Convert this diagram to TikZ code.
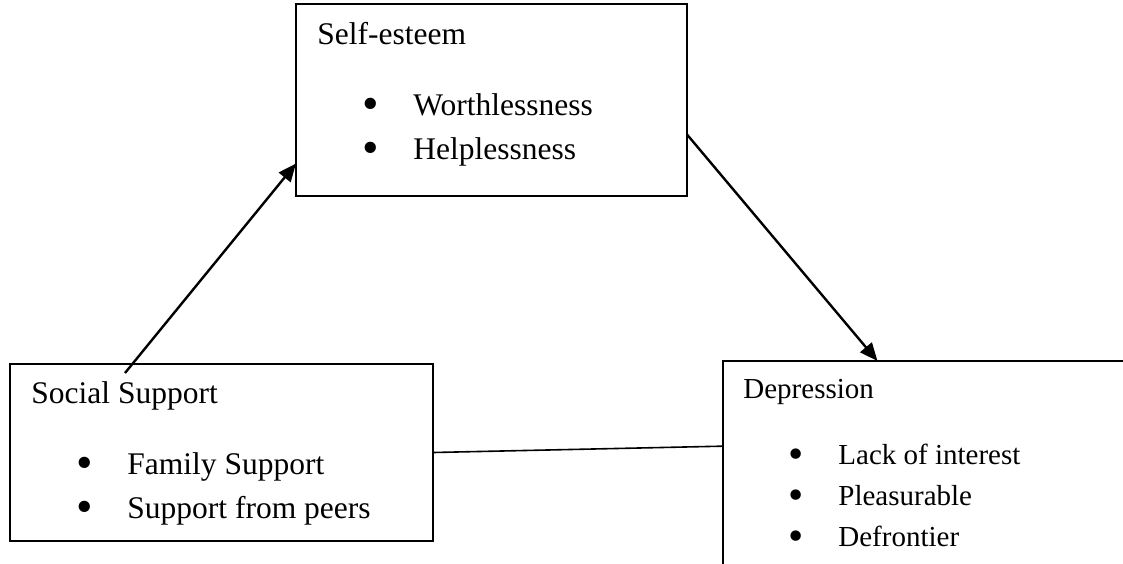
\documentclass[tikz,border=0pt]{standalone}
\usepackage{fontspec}
\setmainfont{Liberation Serif}
\usepackage{graphicx}
\usepackage{tikz}
\usetikzlibrary{arrows.meta}

\newcommand{\bulletitem}[1]{\llap{\raisebox{-0.14em}{\scalebox{1.5}{\textbullet}}\hspace{17.4pt}}#1}

\begin{document}
\begin{tikzpicture}[x=0.5pt,y=-0.5pt]
		\clip (0,0) rectangle (1123,563);

		\tikzset{
			box/.style={draw,line width=0.65pt,inner sep=0pt,outer sep=0pt,anchor=north west},
			label/.style={inner sep=0pt,anchor=base west},
			bigtext/.style={font=\fontsize{15.75}{18}\selectfont},
			smalltext/.style={font=\fontsize{14.5}{17}\selectfont},
			link/.style={line width=1.2pt,-{Triangle[length=9pt,width=7.5pt]}}
		}

		% the three boxes
		\node[box,minimum width=195.5pt,minimum height=96pt]  (selfesteem) at (296,4)   {};
		\node[box,minimum width=211.5pt,minimum height=88.5pt] (social)     at (10,364)  {};
		\node[box,minimum width=205pt,minimum height=125pt]   (depression) at (723,361) {};

		\begin{scope}[bigtext]
			\node[label] (se title) at (317,44)  {Self-esteem};
			\node[label] (se item1) at (413,115) {\bulletitem{Worthlessness}};
			\node[label] (se item2) at (413,159) {\bulletitem{Helplessness}};

			\node[label] (ss title) at (31,403)  {Social Support};
			\node[label] (ss item1) at (127,474) {\bulletitem{Family Support}};
			\node[label] (ss item2) at (127,518) {\bulletitem{Support from peers}};
		\end{scope}

		\begin{scope}[smalltext]
			\node[label] (dp title) at (743,398) {Depression};
			\node[label] (dp item1) at (838,464) {\bulletitem{Lack of interest}};
			\node[label] (dp item2) at (838,505) {\bulletitem{Pleasurable}};
			\node[label] (dp item3) at (838,546) {\bulletitem{Defrontier}};
		\end{scope}

		% connectors
		\coordinate (ss tail) at (125,373);
		\draw[link] (ss tail) -- (selfesteem.198.4);
		\draw[link] (selfesteem.-10.7) -- (depression.112.5);
		\draw[line width=0.8pt] (social.0.7) -- (depression.169.8);
	\end{tikzpicture}
\end{document}
